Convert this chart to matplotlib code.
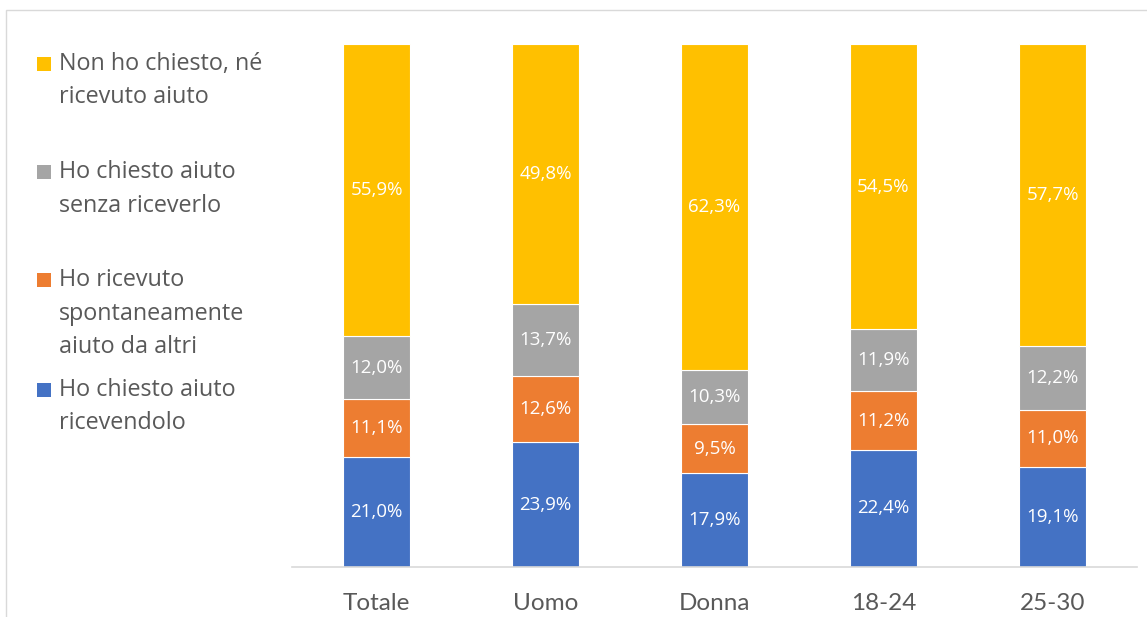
import matplotlib
matplotlib.use("Agg")
import matplotlib.pyplot as plt
from matplotlib.patches import Rectangle
import numpy as np

categories = ["Totale", "Uomo", "Donna", "18-24", "25-30"]
series_names = [
    "Ho chiesto aiuto\nricevendolo",
    "Ho ricevuto\nspontaneamente\naiuto da altri",
    "Ho chiesto aiuto\nsenza riceverlo",
    "Non ho chiesto, né\nricevuto aiuto",
]
ricevendolo = [21.0, 23.9, 17.9, 22.4, 19.1]
spontaneamente = [11.1, 12.6, 9.5, 11.2, 11.0]
senza_riceverlo = [12.0, 13.7, 10.3, 11.9, 12.2]
non_chiesto = [55.9, 49.8, 62.3, 54.5, 57.7]
colors = ["#4472C4", "#ED7D31", "#A5A5A5", "#FFC000"]

W, H = 1147, 617
fig = plt.figure(figsize=(W / 100, H / 100), dpi=100)

# outer border (chart area frame, extends beyond right/bottom edges)
fig.add_artist(Rectangle((6 / W, -0.2), 1.2, 1.2 - 10 / H, transform=fig.transFigure,
                         fill=False, edgecolor="#D9D9D9", linewidth=1.0))

ax = fig.add_axes([292 / W, 1 - 567 / H, (1137 - 292) / W, (567 - 44) / H])
x = np.arange(len(categories))
data = [ricevendolo, spontaneamente, senza_riceverlo, non_chiesto]
bottom = np.zeros(len(categories))
for vals, c in zip(data, colors):
    vals = np.array(vals)
    ax.bar(x, vals, width=0.40, bottom=bottom, color=c, edgecolor="white", linewidth=0.8)
    for xi, b, v in zip(x, bottom, vals):
        ax.text(xi, b + v / 2, f"{v:.1f}%".replace(".", ","), ha="center", va="center",
                color="white", fontsize=13.5, family="Open Sans")
    bottom += vals

ax.set_xlim(-0.5, len(categories) - 0.5)
ax.set_ylim(0, 100)
ax.set_yticks([])
for s in ["top", "right", "left"]:
    ax.spines[s].set_visible(False)
ax.spines["bottom"].set_color("#D9D9D9")
ax.spines["bottom"].set_linewidth(1.2)
ax.set_xticks(x)
ax.set_xticklabels(categories, fontsize=17.5, color="#595959", family="Lato")
ax.tick_params(axis="x", length=0, pad=19)

# legend drawn manually (order top to bottom)
legend_y = [(64, 97), (172, 206), (280, 314, 347), (390, 423)]
for name, c, ys in zip(series_names[::-1], colors[::-1], legend_y):
    fig.add_artist(Rectangle((37 / W, 1 - (ys[0] + 7) / H), 14 / W, 14 / H,
                             transform=fig.transFigure, facecolor=c, edgecolor="none"))
    for line, yy in zip(name.split("\n"), ys):
        fig.text(59 / W, 1 - yy / H, line, ha="left", va="center", fontsize=16.8,
                 color="#595959", family="Open Sans")

fig.savefig("out.png", dpi=100)
